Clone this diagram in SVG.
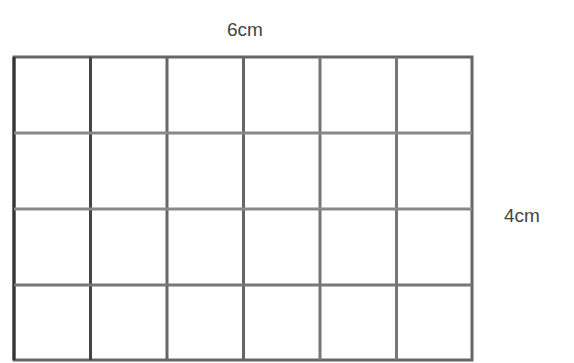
<svg xmlns="http://www.w3.org/2000/svg" width="574" height="363" viewBox="0 0 574 363">
<style>
.g{stroke:#666;stroke-width:3;fill:none}
.t{font-family:"Liberation Sans",Arial,sans-serif;font-size:19px;fill:#444}
</style>
<rect width="574" height="363" fill="#fff"/>
<g id="grid" class="g">
<rect x="14" y="57" width="458" height="303"/>
<line x1="14" y1="57" x2="14" y2="360" stroke="#333"/>
<line x1="90.5" y1="57" x2="90.5" y2="360" stroke="#444"/>
<line x1="167" y1="57" x2="167" y2="360"/>
<line x1="243.5" y1="57" x2="243.5" y2="360"/>
<line x1="320" y1="57" x2="320" y2="360" stroke="#777"/>
<line x1="396.5" y1="57" x2="396.5" y2="360" stroke="#777"/>
<line x1="14" y1="133" x2="472" y2="133" stroke="#888"/>
<line x1="14" y1="209" x2="472" y2="209" stroke="#888"/>
<line x1="14" y1="285" x2="472" y2="285" stroke="#777"/>
</g>
<g id="labels">
<text class="t" x="245" y="36" text-anchor="middle">6cm</text>
<text class="t" x="522" y="222" text-anchor="middle">4cm</text>
</g>
</svg>
